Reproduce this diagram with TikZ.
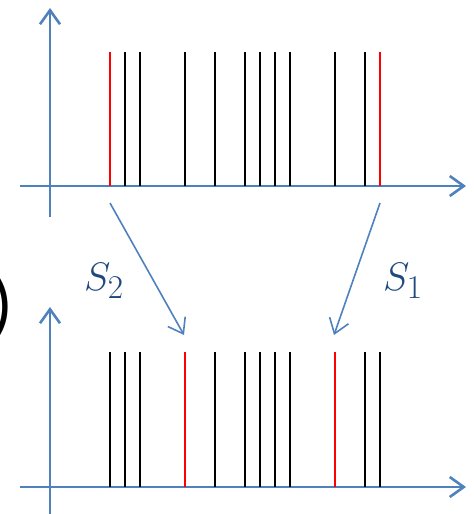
\documentclass[tikz,border=0pt]{standalone}
\usepackage{fontspec}
\newfontfamily\carlito{Carlito}
\usetikzlibrary{arrows.meta}
\definecolor{axisblue}{RGB}{79,129,189}
\definecolor{labelblue}{RGB}{31,73,125}
\tikzset{>={Straight Barb[length=14pt,width=20pt]}}
\tikzstyle{axis}=[->, axisblue, line width=2.6pt]
\tikzstyle{shiftarrow}=[->, axisblue, line width=1.6pt]
\tikzstyle{spike}=[line width=2.6pt, black]
\tikzstyle{marked}=[line width=2.6pt, red]
\tikzstyle{shiftlabel}=[text=labelblue, font=\Huge, scale=1.6]

\begin{document}
\begin{tikzpicture}[x=1pt,y=-1pt]
    \useasboundingbox (0,0) rectangle (476,514);

    % Draw the axes of the upper spike train
    \coordinate (topY0) at (50,217);
    \coordinate (topY1) at (50,8);
    \coordinate (topX0) at (20,186);
    \coordinate (topX1) at (466,186);
    \draw[axis] (topY0) -- (topY1);
    \draw[axis] (topX0) -- (topX1);

    % Draw the axes of the lower spike train
    \coordinate (botY0) at (50,516);
    \coordinate (botY1) at (50,307);
    \coordinate (botX0) at (20,487);
    \coordinate (botX1) at (466,487);
    \draw[axis] (botY0) -- (botY1);
    \draw[axis] (botX0) -- (botX1);

    % Spikes, upper train (red ones at the ends)
    \foreach \x in {125,140,185,215,245,260,275,290,335,365}
        \draw[spike] (\x,186) -- (\x,52);
    \foreach \x in {110,380}
        \draw[marked] (\x,186) -- (\x,52);

    % Spikes, lower train (red ones moved inside)
    \foreach \x in {110,125,140,215,245,260,275,290,365,380}
        \draw[spike] (\x,487) -- (\x,352);
    \foreach \x in {185,335}
        \draw[marked] (\x,487) -- (\x,352);

    % Shift arrows from upper to lower train
    \coordinate (s2from) at (110,203);
    \coordinate (s2to) at (184,335);
    \coordinate (s1from) at (380,203);
    \coordinate (s1to) at (334,335);
    \draw[shiftarrow] (s2from) -- (s2to);
    \draw[shiftarrow] (s1from) -- (s1to);
    \node[shiftlabel] (s2lab) at (104,281) {$S_2$};
    \node[shiftlabel] (s1lab) at (403,281) {$S_1$};

    % Bracket cut off at the left edge
    \node[anchor=east, inner sep=0pt, font=\carlito\fontsize{72}{72}\selectfont] (brk) at (14,307) {)};
\end{tikzpicture}
\end{document}
